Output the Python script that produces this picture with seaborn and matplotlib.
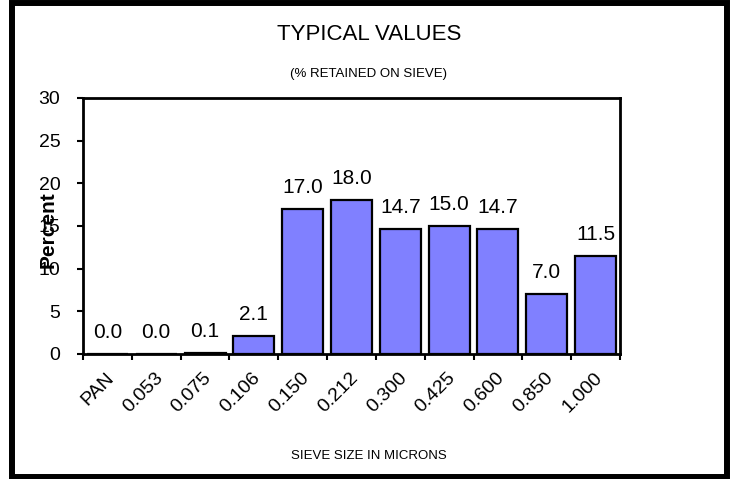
import matplotlib
matplotlib.use("Agg")
import matplotlib.pyplot as plt
import matplotlib.transforms as mtransforms
import seaborn as sns
import pandas as pd
import numpy as np
from matplotlib.patches import Rectangle

categories = ["PAN", "0.053", "0.075", "0.106", "0.150", "0.212", "0.300", "0.425", "0.600", "0.850", "1.000"]
values = [0.0, 0.04, 0.1, 2.1, 17.0, 18.0, 14.7, 15.0, 14.7, 7.0, 11.5]
yticks = [0, 5, 10, 15, 20, 25, 30]

sns.set_theme(style="white")
plt.rcParams['font.family'] = ['Liberation Sans', 'DejaVu Sans']
for k in ['text.color', 'axes.labelcolor', 'xtick.color', 'ytick.color']:
    plt.rcParams[k] = 'black'

W, H = 732, 479
fig = plt.figure(figsize=(W / 100, H / 100), dpi=100)
ax = fig.add_axes([83 / W, (H - 354) / H, 537 / W, 256 / H])

df = pd.DataFrame({"size": categories, "pct": values})
sns.barplot(data=df, x="size", y="pct", ax=ax, color="#8080FF", saturation=1,
            edgecolor="black", linewidth=1.6, width=0.84)

for i, v in enumerate(values):
    ax.annotate(f"{v:.1f}", xy=(i, v), xytext=(0, 11.5), textcoords="offset points",
                ha="center", va="baseline", fontsize=15, color="black")

ax.set_ylim(0, 30)
ax.set_xlim(-0.5, len(categories) - 0.5)
ax.set_yticks(yticks)
ax.set_yticklabels([str(t) for t in yticks], fontsize=14)
ax.set_xticks(range(len(categories)))
ax.set_xticklabels(categories, rotation=45, ha="right", va="center",
                   rotation_mode="anchor", fontsize=14)
ax.tick_params(axis="x", which="major", length=0, pad=15.5)
shift = mtransforms.ScaledTranslation(4 / 100, 0, fig.dpi_scale_trans)
for lab in ax.get_xticklabels():
    lab.set_transform(lab.get_transform() + shift)
ax.set_xticks(np.arange(-0.5, len(categories), 1), minor=True)
ax.tick_params(axis="x", which="minor", length=4.3, width=1.5, color="black", direction="out", bottom=True)
ax.tick_params(axis="y", length=4.3, width=1.5, color="black", direction="out", left=True, pad=12)

for s in ax.spines.values():
    s.set_visible(True)
    s.set_color("black")
    s.set_linewidth(2)

ax.set_xlabel("")
ax.set_ylabel("")
fig.text(48 / W, 1 - 230 / H, "Percent", rotation=90, ha="center", va="center",
         fontsize=15, fontweight="bold")

fig.text(369 / W, 1 - 35 / H, "TYPICAL VALUES", ha="center", va="center", fontsize=16)
fig.text(369 / W, 1 - 74 / H, "(% RETAINED ON SIEVE)", ha="center", va="center", fontsize=9.5)
fig.text(369 / W, 1 - 456 / H, "SIEVE SIZE IN MICRONS", ha="center", va="center", fontsize=9.5)

fig.patches.append(Rectangle((11.5 / W, 2.5 / H), 715.5 / W, 474 / H, transform=fig.transFigure,
                             fill=False, edgecolor="black", linewidth=4.3))

fig.savefig("out.png", dpi=100, facecolor="white")
